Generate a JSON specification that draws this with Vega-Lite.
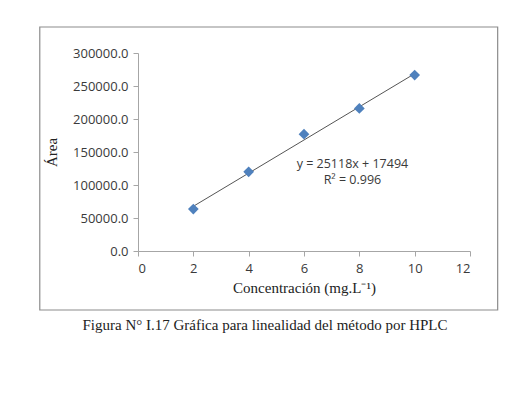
{
  "$schema": "https://vega.github.io/schema/vega-lite/v6.json",
  "autosize": {"type": "none"},
  "padding": {"left": 138, "top": 53, "right": 37, "bottom": 147},
  "width": 332,
  "height": 198,
  "background": "white",
  "title": {
    "text": "Figura N° I.17 Gráfica para linealidad del método por HPLC",
    "orient": "bottom",
    "anchor": "middle",
    "dx": -39,
    "offset": 7,
    "font": "Liberation Serif",
    "fontSize": 15,
    "fontWeight": "normal",
    "color": "#222222"
  },
  "config": {
    "view": {"stroke": null},
    "axis": {
      "grid": false,
      "domainColor": "#a6a6a6",
      "tickColor": "#a6a6a6",
      "labelFont": "Open Sans",
      "labelFontSize": 13,
      "labelColor": "#3a3a3a",
      "labelOverlap": false,
      "titleFont": "Liberation Serif",
      "titleFontSize": 15,
      "titleFontWeight": "normal",
      "titleColor": "#222222"
    }
  },
  "datasets": {
    "points": [
      {"conc": 2, "area": 63500},
      {"conc": 4, "area": 120000},
      {"conc": 6, "area": 177000},
      {"conc": 8, "area": 216000},
      {"conc": 10, "area": 266500}
    ],
    "trend": [
      {"conc": 2, "area": 67730},
      {"conc": 10, "area": 268674}
    ],
    "frame": [
      {"conc": -3.55, "conc2": 13.0, "area": -89400, "area2": 339400}
    ],
    "labels": [
      {"conc": 7.75, "area": 132000, "text": "y = 25118x + 17494"},
      {"conc": 7.75, "area": 107000, "text": "R² = 0.996"}
    ]
  },
  "encoding": {
    "x": {
      "field": "conc", "type": "quantitative",
      "scale": {"domain": [0, 12], "nice": false},
      "axis": {"values": [0, 2, 4, 6, 8, 10, 12], "labelOverlap": false, "title": "Concentración (mg.L⁻¹)", "labelPadding": 6, "tickSize": 5, "titlePadding": 5}
    },
    "y": {
      "field": "area", "type": "quantitative",
      "scale": {"domain": [0, 300000], "nice": false},
      "axis": {"values": [0, 50000, 100000, 150000, 200000, 250000, 300000], "labelOverlap": false, "format": ".1f", "title": "Área", "tickSize": 5, "labelPadding": 5, "titlePadding": 13}
    }
  },
  "layer": [
    {
      "data": {"name": "frame"},
      "mark": {"type": "rect", "fill": null, "stroke": "#8c8c8c", "strokeWidth": 1.2, "clip": false},
      "encoding": {
        "x2": {"field": "conc2"},
        "y2": {"field": "area2"}
      }
    },
    {
      "data": {"name": "trend"},
      "mark": {"type": "line", "color": "#555555", "strokeWidth": 1}
    },
    {
      "data": {"name": "points"},
      "mark": {"type": "point", "shape": "diamond", "filled": true, "color": "#4F81BD", "size": 115, "opacity": 1}
    },
    {
      "data": {"name": "labels"},
      "mark": {"type": "text", "font": "Open Sans", "fontSize": 12.5, "color": "#3a3a3a", "align": "center", "baseline": "middle"},
      "encoding": {
        "text": {"field": "text"}
      }
    }
  ]
}
